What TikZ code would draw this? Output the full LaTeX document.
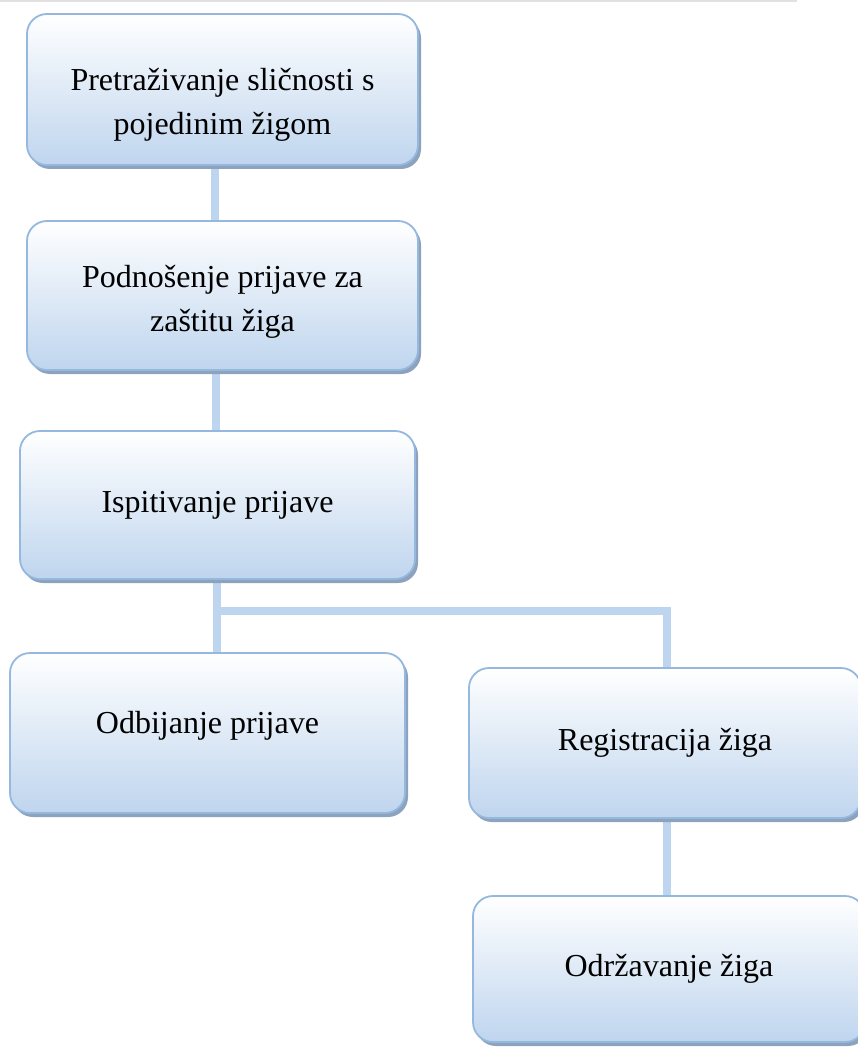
\documentclass[tikz,border=0pt]{standalone}
\usepackage{fontspec}
\setmainfont{Liberation Serif}
\usetikzlibrary{shadows,backgrounds}
\definecolor{boxline}{HTML}{95B8DF}
\definecolor{boxblue}{HTML}{BFD5EE}
\definecolor{boxshadow}{HTML}{8CA2BD}
\definecolor{linkblue}{HTML}{BDD5EE}
\definecolor{rulegray}{HTML}{E1E1E1}
\tikzset{
  box/.style={draw=boxline,line width=1.8pt,rounded corners=20pt,
    top color=white,middle color=boxblue!55!white,bottom color=boxblue,
    minimum width=392pt,minimum height=150pt,align=center,
    font=\fontsize{32}{44}\selectfont,
    drop shadow={shadow xshift=3pt,shadow yshift=-4pt,fill=boxshadow,opacity=1}},
  link/.style={line width=8pt,draw=linkblue}
}

\begin{document}
\begin{tikzpicture}[x=1pt,y=-1pt,line join=miter]
                \useasboundingbox (0,0) rectangle (858,1048);
                \clip (0,0) rectangle (858,1048);
                \draw [rulegray,line width=2pt] (0,1)-- (797,1);
                \node[box,minimum width=391pt,minimum height=151pt,text height=96pt] (pretr) at (222.5,89.5) {Pretraživanje sličnosti s\\pojedinim žigom};
                \node[box,minimum width=391pt,minimum height=149pt,text height=78pt] (podn) at (222.5,295.5) {Podnošenje prijave za\\zaštitu žiga};
                \node[box,minimum width=395pt,minimum height=148pt] (ispit) at (217.5,505) {Ispitivanje prijave};
                \node[box,minimum width=395pt,minimum height=160pt,text depth=22pt] (odbij) at (207.5,733) {Odbijanje prijave};
                \node[box] (regis) at (665,743) {Registracija žiga};
                \node[box,minimum height=146pt] (odrz) at (669,969) {Održavanje žiga};
                \coordinate (jl) at (217,611);
                \coordinate (jr) at (667,611);
                \begin{scope}[on background layer]
                    \draw [link] ([xshift=-8pt]pretr.south)-- ([xshift=-8pt]podn.north);
                    \draw [link] ([xshift=-6.5pt]podn.south)-- ([xshift=-1.5pt]ispit.north);
                    \draw [link] (ispit.south -| jl)-- (odbij.north -| jl);
                    \draw [link,line cap=rect] (jl)-- (jr)-- (regis.north -| jr);
                    \draw [link] (regis.south -| jr)-- (odrz.north -| jr);
                \end{scope}
\end{tikzpicture}
\end{document}
